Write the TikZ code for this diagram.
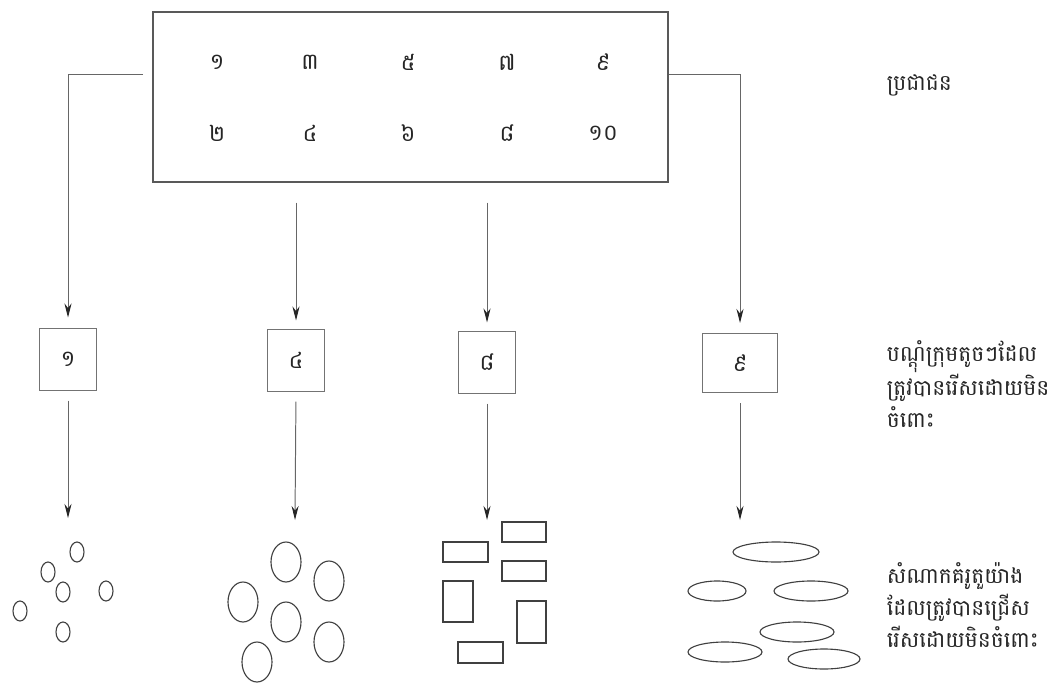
\documentclass[tikz,border=0pt]{standalone}
\usepackage{fontspec}
\newfontfamily\khmer[Script=Khmer]{Battambang}
\usetikzlibrary{arrows.meta, positioning}

\begin{document}
\begin{tikzpicture}[
        x=0.025cm, y=-0.025cm,
        every node/.style={font=\khmer\fontsize{15.5}{22.7}\selectfont, text=black!85},
        popbox/.style={rectangle, draw=black!65, line width=1pt, minimum width=12.875cm, minimum height=4.25cm, inner sep=0pt},
        grpbox/.style={rectangle, draw=black!55, line width=0.7pt, minimum width=1.425cm, minimum height=1.55cm, inner sep=0pt},
        num/.style={font=\khmer\fontsize{16}{18}\selectfont},
        note/.style={anchor=west, align=left},
        arrow/.style={-{Stealth[length=10pt, width=5pt, color=black!85, fill=black!85]}, draw=black!60, line width=0.7pt},
        shp/.style={draw=black!75, line width=0.8pt}
    ]
        \useasboundingbox (0,0) rectangle (1057,684);

        % Population
        \node[popbox] (pop) at (410.5,97) {};
        \node[num] (n1) at (217,62) {១};
        \node[num] (n3) at (310,62) {៣};
        \node[num] (n5) at (408,62) {៥};
        \node[num] (n7) at (507,62) {៧};
        \node[num] (n9) at (603,62) {៩};
        \node[num] (n2) at (217,133) {២};
        \node[num] (n4) at (310,133) {៤};
        \node[num] (n6) at (408,133) {៦};
        \node[num] (n8) at (507,133) {៨};
        \node[num] (n10) at (603,133) {១០};

        % Chosen groups
        \node[grpbox, num] (b1) at (68,359) {១};
        \node[grpbox, num] (b2) at (296,360) {៤};
        \node[grpbox, num] (b3) at (487,362) {៨};
        \node[grpbox, num, minimum width=1.875cm, minimum height=1.475cm] (b4) at (740,363) {៩};

        % Labels
        \node[note] (poplbl) at (882,85) {ប្រជាជន};
        \node[note] (grplbl) at (882,384) {បណ្តុំក្រុមតូចៗដែល\\ត្រូវបានរើសដោយមិន\\ចំពោះ};
        \node[note] (smplbl) at (882,605) {សំណាកគំរូតួយ៉ាង\\ដែលត្រូវបានជ្រើស\\រើសដោយមិនចំពោះ};

        % Arrows
        \coordinate (lstart) at (143,74);
        \coordinate (c1) at (68,518);
        \coordinate (c2) at (295,520);
        \coordinate (c3) at (487,520);
        \coordinate (c4) at (740,520);
        \draw[arrow, shorten >=0.25cm] (lstart) -| (b1.north);
        \draw[arrow, shorten >=0.25cm] (pop.east |- lstart) -| (b4.north);
        \draw[arrow, shorten <=0.5cm, shorten >=0.2cm] (b2.north |- pop.south) -- (b2.north);
        \draw[arrow, shorten <=0.5cm, shorten >=0.2cm] (b3.north |- pop.south) -- (b3.north);
        \draw[arrow, shorten <=0.25cm] (b1.south) -- (c1);
        \draw[arrow, shorten <=0.25cm] (b2.south) -- (c2);
        \draw[arrow, shorten <=0.25cm] (b3.south) -- (c3);
        \draw[arrow, shorten <=0.25cm] (b4.south) -- (c4);

        % Small circles
        \foreach \cx/\cy in {77/552, 48/572, 63/592, 106/591, 20/611, 63/632}
            \draw[shp] (\cx,\cy) ellipse [x radius=7, y radius=10];

        % Big circles
        \foreach \cx/\cy in {286/562, 329/581, 243/602, 286/622, 329/642, 257/662}
            \draw[shp] (\cx,\cy) ellipse [x radius=15, y radius=20];

        % Rectangles
        \foreach \xa/\ya/\xb/\yb in {502/522/546/542, 443/542/488/562, 502/561/546/581,
                                     443/581/473/622, 517/601/546/643, 458/642/503/663}
            \draw[shp] (\xa,\ya) rectangle (\xb,\yb);

        % Flat ellipses
        \foreach \cx/\cy/\rx in {776/552/43, 717/591/29, 811/591/37, 797/632/37, 725/652/37, 824/659/36}
            \draw[shp] (\cx,\cy) ellipse [x radius=\rx, y radius=10];

    \end{tikzpicture}
\end{document}
